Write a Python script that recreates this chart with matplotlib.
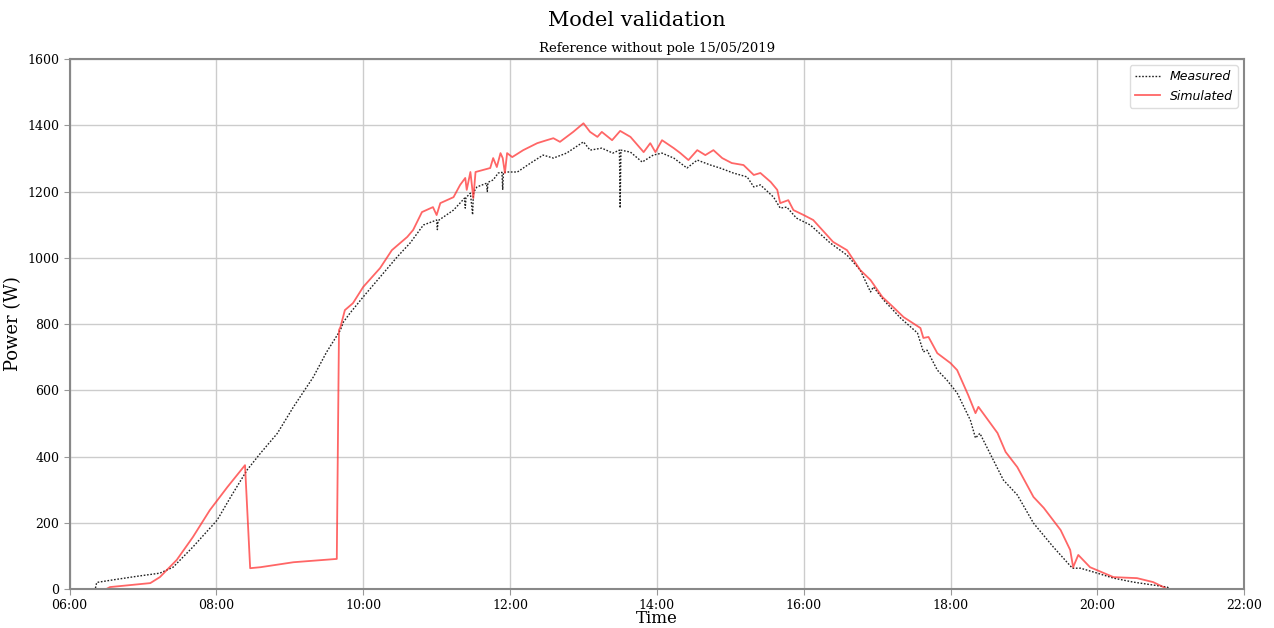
import matplotlib.pyplot as plt
import numpy as np

# Hours of the day (decimal) and power readings (W)
meas_t = [6.0, 6.35, 6.37, 6.6, 6.9, 7.23, 7.41, 7.68, 8.01, 8.2, 8.42, 8.60, 8.83, 9.05, 9.32,
          9.5, 9.69, 9.73, 9.82, 10.0, 10.23, 10.46, 10.64, 10.82, 11.0, 11.01, 11.02, 11.23,
          11.38, 11.39, 11.40, 11.46, 11.49, 11.50, 11.51, 11.55, 11.68, 11.69, 11.70, 11.77,
          11.84, 11.89, 11.90, 11.91, 11.96, 12.1, 12.28, 12.45, 12.59, 12.77, 13.0, 13.09,
          13.25, 13.4, 13.49, 13.50, 13.51, 13.64, 13.8, 13.95, 14.07, 14.23, 14.41, 14.55,
          14.73, 14.86, 15.04, 15.23, 15.32, 15.41, 15.59, 15.68, 15.77, 15.9, 16.09, 16.36,
          16.59, 16.77, 16.91, 16.95, 17.09, 17.32, 17.55, 17.63, 17.68, 17.82, 17.95, 18.09,
          18.27, 18.34, 18.4, 18.72, 18.91, 19.13, 19.4, 19.66, 19.77, 20.0, 20.22, 20.49,
          20.95, 21.0, 22.0]
meas_p = [0, 0, 20, 28, 38, 48, 66, 127, 208, 280, 360, 410, 470, 550, 640,
          715, 782, 806, 833, 882, 942, 1002, 1045, 1099, 1114, 1085, 1112, 1144,
          1180, 1150, 1182, 1195, 1130, 1190, 1200, 1214, 1225, 1200, 1228, 1235,
          1256, 1258, 1205, 1258, 1259, 1259, 1286, 1310, 1301, 1316, 1350, 1325,
          1331, 1316, 1325, 1150, 1325, 1319, 1289, 1310, 1316, 1301, 1271, 1295,
          1280, 1271, 1256, 1244, 1214, 1220, 1183, 1150, 1153, 1120, 1099, 1045,
          1008, 963, 897, 912, 872, 818, 773, 716, 721, 661, 631, 592,
          510, 456, 470, 329, 284, 199, 127, 63, 63, 48, 33, 21,
          6, 0, 0]

sim_t = [6.0, 6.5, 6.55, 7.10, 7.23, 7.46, 7.68, 7.91, 8.15, 8.39, 8.46, 8.60, 9.05, 9.64,
         9.67, 9.69, 9.75, 9.86, 10.0, 10.23, 10.39, 10.6, 10.68, 10.8, 10.95, 11.0, 11.05,
         11.23, 11.32, 11.39, 11.41, 11.46, 11.5, 11.53, 11.73, 11.77, 11.82, 11.87, 11.9,
         11.93, 11.96, 12.03, 12.18, 12.37, 12.5, 12.59, 12.68, 12.86, 13.0, 13.09, 13.19,
         13.25, 13.39, 13.5, 13.64, 13.82, 13.91, 13.98, 14.07, 14.23, 14.32, 14.43, 14.55,
         14.66, 14.77, 14.89, 15.02, 15.18, 15.32, 15.41, 15.55, 15.64, 15.68, 15.79, 15.86,
         16.0, 16.13, 16.4, 16.59, 16.77, 16.91, 17.07, 17.22, 17.36, 17.59, 17.63, 17.7,
         17.82, 18.0, 18.09, 18.24, 18.34, 18.38, 18.64, 18.75, 18.91, 19.13, 19.27, 19.5,
         19.63, 19.67, 19.74, 19.9, 20.22, 20.54, 20.76, 20.9, 20.95, 22.0]
sim_p = [0, 0, 6, 18, 36, 88, 157, 238, 308, 374, 63, 66, 81, 91,
         782, 791, 842, 863, 912, 969, 1023, 1063, 1084, 1138, 1153, 1129, 1165,
         1183, 1220, 1241, 1205, 1259, 1180, 1259, 1271, 1301, 1274, 1316, 1301,
         1256, 1316, 1304, 1325, 1346, 1355, 1361, 1350, 1380, 1406, 1380, 1365,
         1380, 1355, 1383, 1365, 1319, 1346, 1319, 1355, 1331, 1316, 1295, 1325,
         1310, 1325, 1301, 1286, 1280, 1250, 1256, 1229, 1205, 1165, 1174, 1144,
         1129, 1114, 1048, 1023, 963, 933, 882, 851, 821, 788, 758, 761,
         712, 682, 661, 586, 531, 550, 471, 414, 368, 278, 245, 178,
         118, 66, 103, 66, 36, 33, 21, 6, 0, 0]

x_ticks = [6, 8, 10, 12, 14, 16, 18, 20, 22]
x_labels = ["06:00", "08:00", "10:00", "12:00", "14:00", "16:00", "18:00", "20:00", "22:00"]

plt.rcParams['font.family'] = 'DejaVu Serif'

fig = plt.figure(figsize=(12.74, 6.28), dpi=100)
ax = fig.add_axes([0.0546, 0.062, 0.922, 0.844])

ax.plot(meas_t, meas_p, color='#222222', linestyle=(0, (1.2, 1.2)), linewidth=1.0, label='Measured')
ax.plot(sim_t, sim_p, color='#ff3333', alpha=0.75, linewidth=1.3, label='Simulated')

ax.set_xlim(6, 22)
ax.set_ylim(0, 1600)
ax.set_xticks(x_ticks)
ax.set_xticklabels(x_labels)
ax.set_yticks(np.arange(0, 1601, 200))
ax.tick_params(labelsize=9, color='#999999', length=4)
ax.grid(True, color='#cccccc', linewidth=1.0)
for s in ax.spines.values():
    s.set_color('#888888')
    s.set_linewidth(1.5)

ax.set_xlabel("Time", fontsize=12)
ax.xaxis.set_label_coords(0.5, -0.04)
ax.set_ylabel("Power (W)", fontsize=13)
ax.set_title("Reference without pole 15/05/2019", fontsize=9.5, pad=5)
fig.text(0.5, 0.968, "Model validation", fontsize=15, ha='center', va='center')

leg = ax.legend(loc='upper right', prop={'family': 'DejaVu Sans', 'style': 'italic', 'size': 9},
                framealpha=1.0, edgecolor='#dddddd')

fig.savefig("out.png", dpi=100)
